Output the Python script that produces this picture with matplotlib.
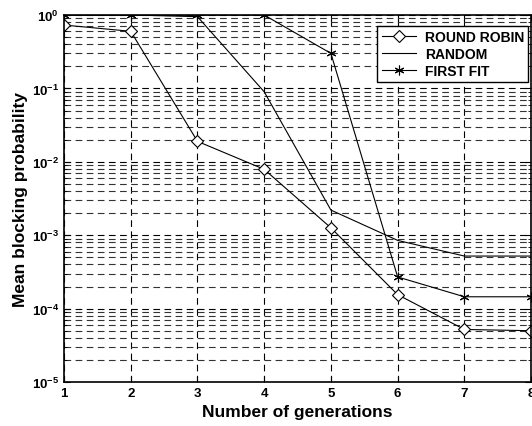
import numpy as np
import matplotlib
matplotlib.use("Agg")
import matplotlib.pyplot as plt
from matplotlib.ticker import LogLocator, NullFormatter

plt.rcParams['font.family'] = ['Liberation Sans', 'DejaVu Sans']

# values
generations = [1, 2, 3, 4, 5, 6, 7, 8]
round_robin = [0.73, 0.6, 0.019, 0.0079, 0.00126, 1.55e-4, 5.2e-5, 5.0e-5]
random_alloc = [1.0, 1.0, 0.95, 0.09, 0.0022, 8.5e-4, 5.2e-4, 5.2e-4]
first_fit = [1.0, 1.0, 1.0, 1.0, 0.3, 2.7e-4, 1.45e-4, 1.45e-4]
series_names = ['ROUND ROBIN', 'RANDOM', 'FIRST FIT']

fig = plt.figure(figsize=(5.32, 4.27), dpi=100)
ax = fig.add_axes([0.1203, 0.103, 0.878, 0.8595])

ax.plot(generations, round_robin, color='black', lw=0.8, marker='D', markersize=6,
        markerfacecolor='white', markeredgecolor='black', markeredgewidth=0.8,
        label=series_names[0])
ax.plot(generations, random_alloc, color='black', lw=0.8, label=series_names[1])
ax.plot(generations, first_fit, color='black', lw=0.8, marker=(6, 2, 0), markersize=7,
        markeredgewidth=0.8, label=series_names[2])

ax.set_yscale('log')
ax.set_xlim(1, 8)
ax.set_ylim(1e-5, 1)
ax.set_xticks(generations)
ax.yaxis.set_major_locator(LogLocator(base=10, numticks=10))
ax.yaxis.set_minor_locator(LogLocator(base=10, subs=np.arange(2, 10), numticks=20))
ax.yaxis.set_minor_formatter(NullFormatter())

ax.grid(True, which='major', axis='both', ls=(0, (6, 4)), color='black', lw=0.8)
ax.grid(True, which='minor', axis='y', ls=(0, (6, 4)), color='#333333', lw=0.8)
ax.tick_params(which='both', direction='in', top=True, right=True)
ax.tick_params(which='major', length=4, labelsize=9.5)
ax.tick_params(which='minor', length=2)
for lbl in ax.get_xticklabels() + ax.get_yticklabels():
    lbl.set_fontweight('bold')
for sp in ax.spines.values():
    sp.set_linewidth(1.2)

ax.set_xlabel('Number of generations', fontsize=12.5, fontweight='bold', labelpad=4)
ax.set_ylabel('Mean blocking probability', fontsize=12.5, fontweight='bold', labelpad=3)

leg = ax.legend(loc='upper right', bbox_to_anchor=(0.9936, 0.97), borderaxespad=0,
                fancybox=False, framealpha=1, edgecolor='black',
                prop={'weight': 'bold', 'size': 10},
                handlelength=2.5, borderpad=0.3, labelspacing=0.2, handletextpad=0.6)
leg.get_frame().set_linewidth(1.0)

fig.savefig('out.png', dpi=100)
